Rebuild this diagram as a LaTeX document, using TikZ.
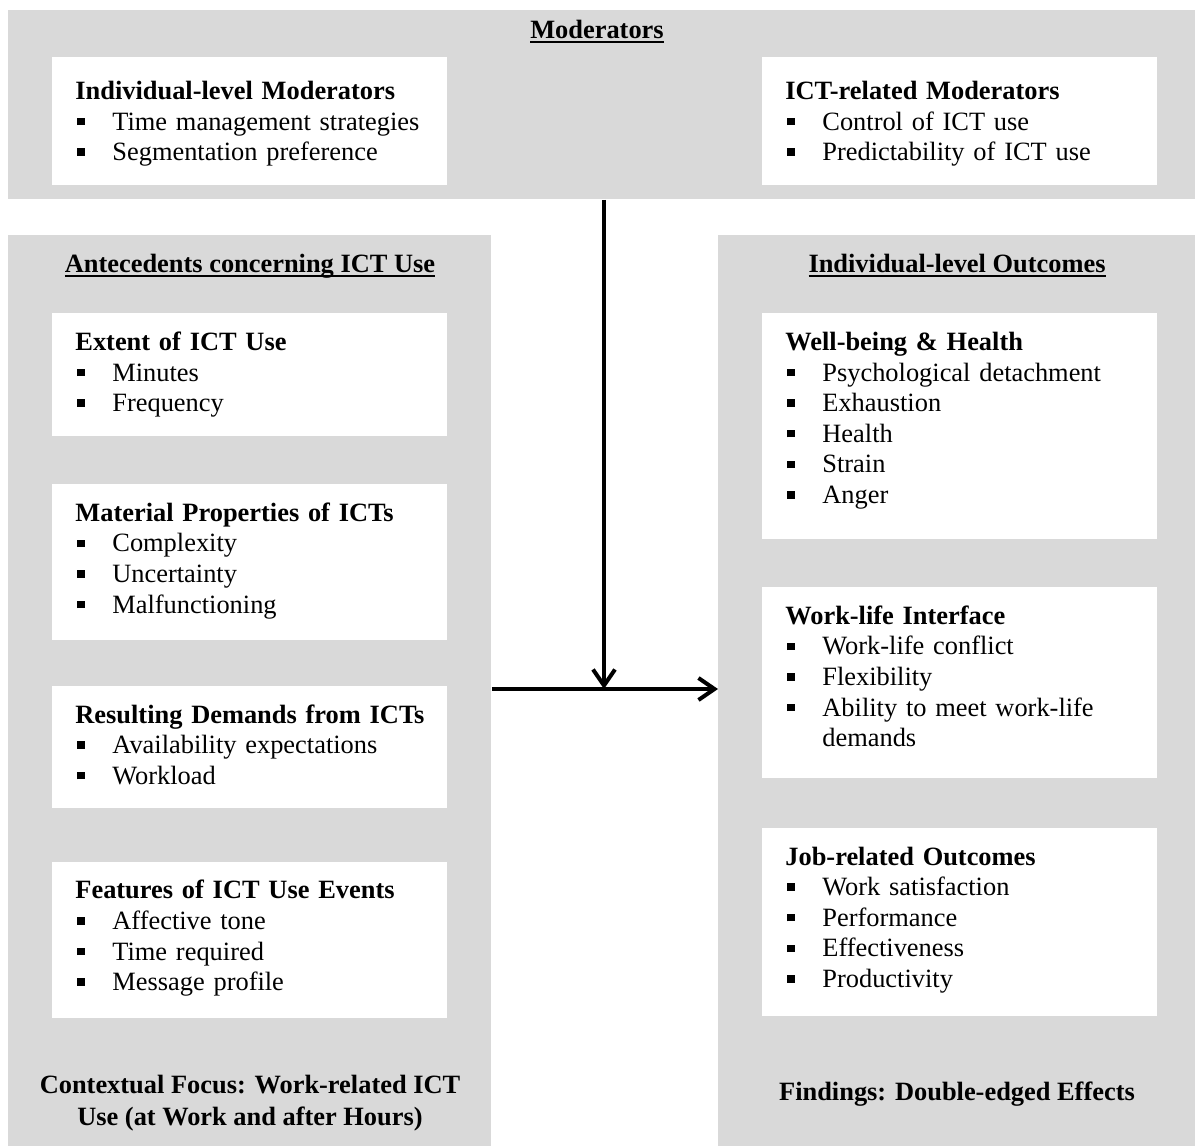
\documentclass[tikz,border=0pt]{standalone}
\usepackage{fontspec}
\setmainfont{Liberation Serif}
\usetikzlibrary{positioning, arrows.meta}
\definecolor{panelgray}{HTML}{D9D9D9}
\newcommand{\sqbullet}{\rule[2.4pt]{3.7pt}{3.7pt}}
\newcommand{\boxhead}[1]{\mbox{\textbf{#1}}}
\newcommand{\itm}[1]{\par\hangindent=18.5pt\hangafter=1\noindent\makebox[18.5pt][l]{\hspace{1pt}\sqbullet}#1\par}
\newcommand{\ulhead}[1]{\setbox0\hbox{\textbf{#1}}\rlap{\rule[-2.6pt]{\wd0}{1.1pt}}\box0}
\tikzset{
  panelbox/.style={
    rectangle,
    fill=panelgray,
    anchor=north west,
    inner sep=0pt
  },
  itembox/.style={
    rectangle,
    fill=white,
    anchor=north west,
    text width=174.5pt,
    inner xsep=11.5pt,
    inner ysep=0pt,
    text height=18.5pt,
    align=left,
    font=\fontsize{13.2}{15.3}\selectfont
  },
  paneltitle/.style={
    font=\fontsize{13.2}{15.3}\selectfont\bfseries,
    inner sep=0pt,
    anchor=base
  },
  panelnote/.style={
    font=\fontsize{13.2}{16}\selectfont\bfseries,
    align=center,
    inner sep=0pt
  },
  mainarrow/.style={
    -{Straight Barb[length=8pt,width=11pt]},
    line width=2pt
  }
}

\begin{document}
\begin{tikzpicture}[x=0.5pt, y=-0.5pt]
  \useasboundingbox (0,0) rectangle (1195,1146);

  % grey panels
  \node[panelbox, minimum width=593.5pt, minimum height=94.5pt] (mods) at (8,10) {};
  \node[panelbox, minimum width=241.5pt, minimum height=455.5pt] (ante) at (8,235) {};
  \node[panelbox, minimum width=238.5pt, minimum height=455.5pt] (outc) at (718,235) {};

  % panel titles
  \node[paneltitle] (modtitle) at (597,38) {\ulhead{Moderators}};
  \node[paneltitle] (antetitle) at (250,272) {\ulhead{Antecedents concerning ICT Use}};
  \node[paneltitle] (outctitle) at (957,272) {\ulhead{Individual-level Outcomes}};

  % moderators
  \node[itembox, text height=21pt, text depth=43pt] (indmod) at (52,57)
    {\boxhead{Individual-level Moderators}
     \itm{Time management strategies}
     \itm{Segmentation preference}};
  \node[itembox, text height=21pt, text depth=43pt] (ictmod) at (762,57)
    {\boxhead{ICT-related Moderators}
     \itm{Control of ICT use}
     \itm{Predictability of ICT use}};

  % antecedents
  \node[itembox, text depth=43pt] (extent) at (52,313)
    {\boxhead{Extent of ICT Use}
     \itm{Minutes}
     \itm{Frequency}};
  \node[itembox, text depth=59.5pt, below=23.5pt of extent] (material)
    {\boxhead{Material Properties of ICTs}
     \itm{Complexity}
     \itm{Uncertainty}
     \itm{Malfunctioning}};
  \node[itembox, text depth=42.5pt, below=22.5pt of material] (demands)
    {\boxhead{Resulting Demands from ICTs}
     \itm{Availability expectations}
     \itm{Workload}};
  \node[itembox, text depth=59.5pt, below=26.5pt of demands] (events)
    {\boxhead{Features of ICT Use Events}
     \itm{Affective tone}
     \itm{Time required}
     \itm{Message profile}};

  % outcomes
  \node[itembox, text depth=94.5pt] (wellbeing) at (762,313)
    {\boxhead{Well-being \& Health}
     \itm{Psychological detachment}
     \itm{Exhaustion}
     \itm{Health}
     \itm{Strain}
     \itm{Anger}};
  \node[itembox, text depth=77pt, below=23.5pt of wellbeing] (worklife)
    {\boxhead{Work-life Interface}
     \itm{Work-life conflict}
     \itm{Flexibility}
     \itm{Ability to meet work-life demands}};
  \node[itembox, text depth=75.5pt, below=24.5pt of worklife] (jobout)
    {\boxhead{Job-related Outcomes}
     \itm{Work satisfaction}
     \itm{Performance}
     \itm{Effectiveness}
     \itm{Productivity}};

  % panel footers
  \node[panelnote] (antenote) at (250,1103)
    {Contextual Focus: Work-related ICT\\Use (at Work and after Hours)};
  \node[panelnote] (outcnote) at (957,1094) {Findings: Double-edged Effects};

  % arrows
  \coordinate (meet) at (604,689);
  \draw[mainarrow] (ante.east |- meet) -- (outc.west |- meet);
  \draw[mainarrow] (mods.south -| meet) -- (meet);
\end{tikzpicture}
\end{document}
